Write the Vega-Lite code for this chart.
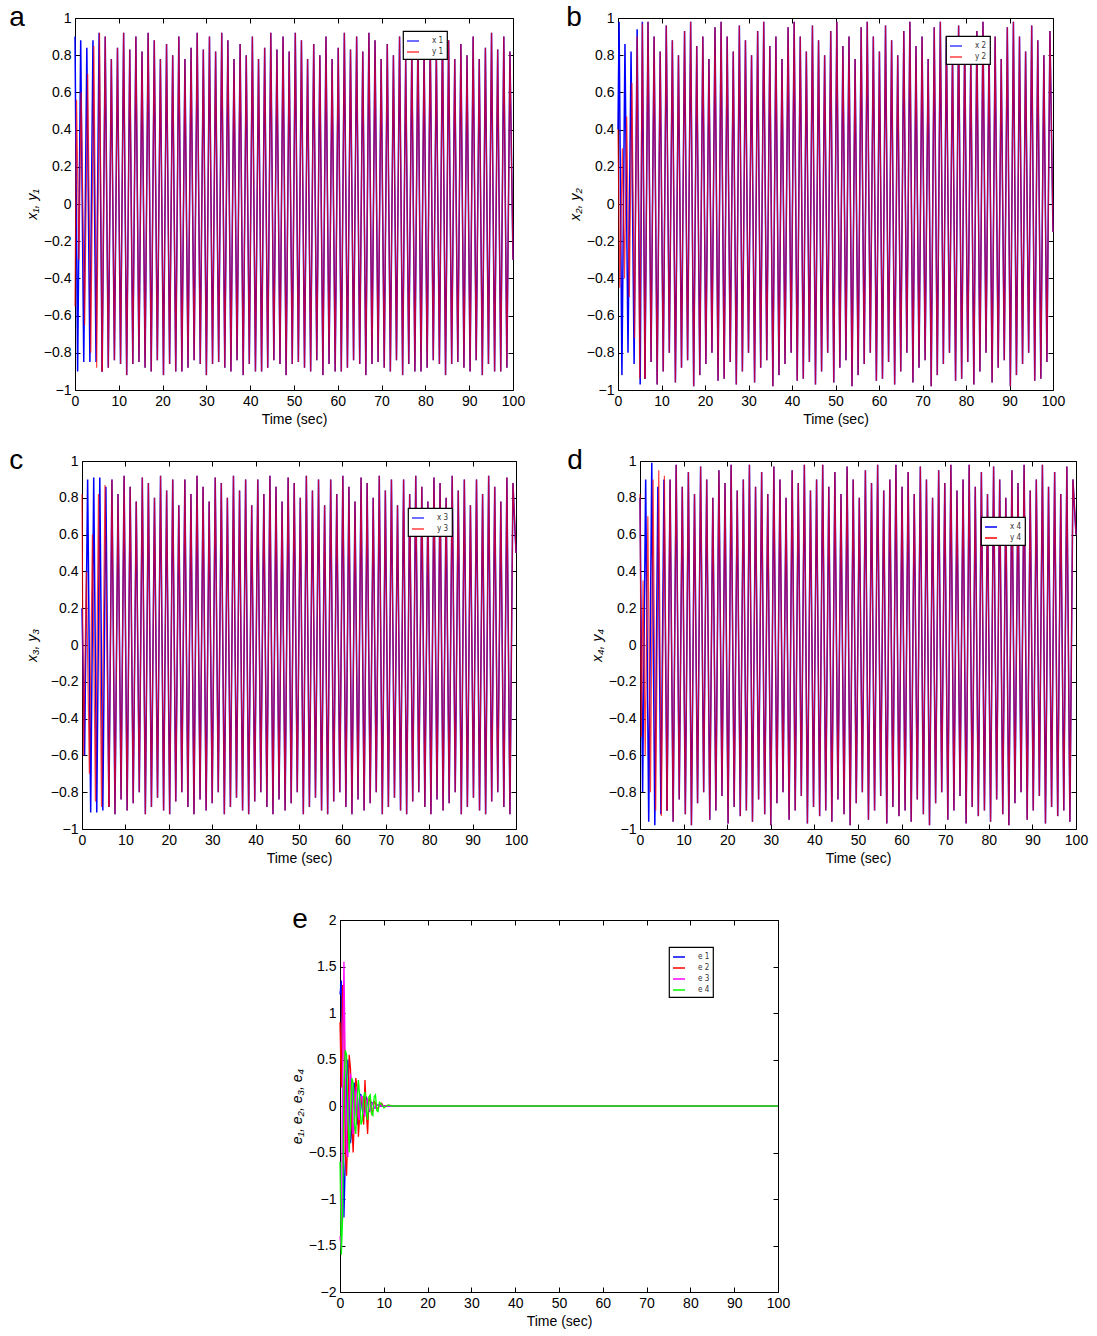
{
"$schema":"https://vega.github.io/schema/vega-lite/v6.json",
"background":"white",
"padding":{"left":7,"top":3,"right":5,"bottom":5},
"config":{
"font":"Liberation Sans",
"view":{"stroke":"#000","strokeWidth":1},
"axis":{"grid":false,"domain":false,"labelFontSize":14,"titleFontSize":14,"titleFontWeight":"normal","labelColor":"#000","titleColor":"#000","tickColor":"#000","tickSize":-5,"labelPadding":9,"labelFlush":false,"labelOverlap":false,"titlePadding":4},
"title":{"anchor":"start","frame":"bounds","fontSize":28,"fontWeight":"normal","font":"Liberation Sans","offset":-21,"color":"#000"},
"legend":{"strokeColor":"#000","strokeWidth":1.2,"fillColor":"#fff","padding":3,"symbolType":"stroke","symbolSize":144,"symbolStrokeWidth":1.5,"labelFontSize":8,"labelFont":"DejaVu Sans Condensed","labelColor":"#333","labelOffset":12,"rowPadding":0,"title":null}
},
"datasets":{
"tr":[
{"t":0,"ax":0.9},{"t":0.6,"ax":-0.9},{"t":1.3,"ax":0.88},{"t":2.0,"ax":-0.85},{"t":2.7,"ax":0.84},{"t":3.4,"ax":-0.85},{"t":4.1,"ax":0.88},{"t":4.8,"ax":-0.85},{"t":5.5,"ax":0.92},{"t":6.2,"ax":-0.9},
{"t":0,"ay":-0.55},{"t":0.35,"ay":0.56},{"t":0.9,"ay":-0.3},{"t":1.4,"ay":0.6},{"t":2.2,"ay":-0.65},{"t":2.9,"ay":0.7},{"t":3.6,"ay":-0.8},{"t":4.3,"ay":0.85},{"t":4.95,"ay":-0.88},{"t":5.6,"ay":0.92},{"t":6.2,"ay":-0.9},
{"t":0,"bx":0.4},{"t":0.25,"bx":0.98},{"t":0.9,"bx":-0.92},{"t":1.6,"bx":0.86},{"t":2.3,"bx":-0.8},{"t":3.0,"bx":0.82},{"t":3.7,"bx":-0.86},{"t":4.4,"bx":0.94},{"t":5.1,"bx":-0.97},{"t":5.6,"bx":0.98},{"t":6.2,"bx":-0.94},
{"t":0,"by":0.4},{"t":0.4,"by":-0.45},{"t":1.0,"by":0.3},{"t":1.5,"by":-0.4},{"t":2.0,"by":0.47},{"t":2.6,"by":-0.5},{"t":3.2,"by":0.65},{"t":3.8,"by":-0.72},{"t":4.4,"by":0.9},{"t":5.0,"by":-0.94},{"t":5.6,"by":0.97},{"t":6.2,"by":-0.94},
{"t":0,"cx":0.2},{"t":0.6,"cx":-0.6},{"t":1.3,"cx":0.9},{"t":2.0,"cx":-0.91},{"t":2.7,"cx":0.91},{"t":3.4,"cx":-0.91},{"t":4.1,"cx":0.91},{"t":4.8,"cx":-0.9},{"t":5.5,"cx":0.86},{"t":6.2,"cx":-0.88},
{"t":0,"cy":0.82},{"t":0.35,"cy":-0.6},{"t":1.0,"cy":0.4},{"t":1.7,"cy":-0.7},{"t":2.4,"cy":0.6},{"t":3.1,"cy":-0.85},{"t":3.8,"cy":0.82},{"t":4.5,"cy":-0.88},{"t":5.3,"cy":0.87},{"t":6.2,"cy":-0.88},
{"t":0,"dx":0.8},{"t":0.6,"dx":-0.8},{"t":1.3,"dx":0.9},{"t":2.0,"dx":-0.96},{"t":2.7,"dx":0.99},{"t":3.4,"dx":-0.98},{"t":4.1,"dx":0.86},{"t":4.8,"dx":-0.92},{"t":5.5,"dx":0.9},{"t":6.2,"dx":-0.9},
{"t":0,"dy":0.82},{"t":0.3,"dy":-0.5},{"t":0.7,"dy":0.35},{"t":1.2,"dy":-0.6},{"t":1.8,"dy":0.7},{"t":2.4,"dy":-0.8},{"t":3.0,"dy":0.9},{"t":3.6,"dy":-0.9},{"t":4.3,"dy":0.95},{"t":4.9,"dy":-0.93},{"t":5.6,"dy":0.92},{"t":6.2,"dy":-0.9}
],
"ss":[
{"t":6.2,"a":-0.9,"b":-0.94,"c":-0.88,"d":-0.9},
{"t":6.9,"a":0.9,"b":0.98,"c":0.9,"d":0.9},
{"t":7.6,"a":-0.88,"b":-0.85,"c":-0.92,"d":-0.96},
{"t":8.3,"a":0.78,"b":0.9,"c":0.82,"d":0.98},
{"t":9.0,"a":-0.84,"b":-0.97,"c":-0.84,"d":-0.84},
{"t":9.7,"a":0.84,"b":0.82,"c":0.92,"d":0.86},
{"t":10.4,"a":-0.86,"b":-0.9,"c":-0.9,"d":-0.92},
{"t":11.1,"a":0.92,"b":0.96,"c":0.86,"d":0.94},
{"t":11.8,"a":-0.92,"b":-0.8,"c":-0.86,"d":-0.98},
{"t":12.5,"a":0.83,"b":0.88,"c":0.78,"d":0.82},
{"t":13.2,"a":-0.86,"b":-0.96,"c":-0.8,"d":-0.86},
{"t":13.9,"a":0.9,"b":0.8,"c":0.91,"d":0.97},
{"t":14.6,"a":-0.85,"b":-0.88,"c":-0.92,"d":-0.8},
{"t":15.3,"a":0.82,"b":0.93,"c":0.88,"d":0.9},
{"t":16.0,"a":-0.88,"b":-0.84,"c":-0.88,"d":-0.95},
{"t":16.7,"a":0.92,"b":0.98,"c":0.8,"d":0.8},
{"t":17.4,"a":-0.9,"b":-0.98,"c":-0.83,"d":-0.9},
{"t":18.1,"a":0.88,"b":0.85,"c":0.92,"d":0.95},
{"t":18.8,"a":-0.84,"b":-0.92,"c":-0.9,"d":-0.82},
{"t":19.5,"a":0.78,"b":0.9,"c":0.84,"d":0.88},
{"t":20.2,"a":-0.92,"b":-0.86,"c":-0.92,"d":-0.97},
{"t":20.9,"a":0.86,"b":0.78,"c":0.9,"d":0.98},
{"t":21.6,"a":-0.86,"b":-0.8,"c":-0.85,"d":-0.88},
{"t":22.3,"a":0.8,"b":0.95,"c":0.76,"d":0.84},
{"t":23.0,"a":-0.9,"b":-0.95,"c":-0.8,"d":-0.93},
{"t":23.7,"a":0.9,"b":0.98,"c":0.9,"d":0.9},
{"t":24.4,"a":-0.9,"b":-0.94,"c":-0.88,"d":-0.9},
{"t":25.1,"a":0.78,"b":0.9,"c":0.82,"d":0.98},
{"t":25.8,"a":-0.88,"b":-0.85,"c":-0.92,"d":-0.96},
{"t":26.5,"a":0.84,"b":0.82,"c":0.92,"d":0.86},
{"t":27.2,"a":-0.84,"b":-0.97,"c":-0.84,"d":-0.84},
{"t":27.9,"a":0.92,"b":0.96,"c":0.86,"d":0.94},
{"t":28.6,"a":-0.86,"b":-0.9,"c":-0.9,"d":-0.92},
{"t":29.3,"a":0.83,"b":0.88,"c":0.78,"d":0.82},
{"t":30.0,"a":-0.92,"b":-0.8,"c":-0.86,"d":-0.98},
{"t":30.7,"a":0.9,"b":0.8,"c":0.91,"d":0.97},
{"t":31.4,"a":-0.86,"b":-0.96,"c":-0.8,"d":-0.86},
{"t":32.1,"a":0.82,"b":0.93,"c":0.88,"d":0.9},
{"t":32.8,"a":-0.85,"b":-0.88,"c":-0.92,"d":-0.8},
{"t":33.5,"a":0.92,"b":0.98,"c":0.8,"d":0.8},
{"t":34.2,"a":-0.88,"b":-0.84,"c":-0.88,"d":-0.95},
{"t":34.9,"a":0.88,"b":0.85,"c":0.92,"d":0.95},
{"t":35.6,"a":-0.9,"b":-0.98,"c":-0.83,"d":-0.9},
{"t":36.3,"a":0.78,"b":0.9,"c":0.84,"d":0.88},
{"t":37.0,"a":-0.84,"b":-0.92,"c":-0.9,"d":-0.82},
{"t":37.7,"a":0.86,"b":0.78,"c":0.9,"d":0.98},
{"t":38.4,"a":-0.92,"b":-0.86,"c":-0.92,"d":-0.97},
{"t":39.1,"a":0.8,"b":0.95,"c":0.76,"d":0.84},
{"t":39.8,"a":-0.86,"b":-0.8,"c":-0.85,"d":-0.88},
{"t":40.5,"a":0.9,"b":0.98,"c":0.9,"d":0.9},
{"t":41.2,"a":-0.9,"b":-0.95,"c":-0.8,"d":-0.93},
{"t":41.9,"a":0.78,"b":0.9,"c":0.82,"d":0.98},
{"t":42.6,"a":-0.9,"b":-0.94,"c":-0.88,"d":-0.9},
{"t":43.3,"a":0.84,"b":0.82,"c":0.92,"d":0.86},
{"t":44.0,"a":-0.88,"b":-0.85,"c":-0.92,"d":-0.96},
{"t":44.7,"a":0.92,"b":0.96,"c":0.86,"d":0.94},
{"t":45.4,"a":-0.84,"b":-0.97,"c":-0.84,"d":-0.84},
{"t":46.1,"a":0.83,"b":0.88,"c":0.78,"d":0.82},
{"t":46.8,"a":-0.86,"b":-0.9,"c":-0.9,"d":-0.92},
{"t":47.5,"a":0.9,"b":0.8,"c":0.91,"d":0.97},
{"t":48.2,"a":-0.92,"b":-0.8,"c":-0.86,"d":-0.98},
{"t":48.9,"a":0.82,"b":0.93,"c":0.88,"d":0.9},
{"t":49.6,"a":-0.86,"b":-0.96,"c":-0.8,"d":-0.86},
{"t":50.3,"a":0.92,"b":0.98,"c":0.8,"d":0.8},
{"t":51.0,"a":-0.85,"b":-0.88,"c":-0.92,"d":-0.8},
{"t":51.7,"a":0.88,"b":0.85,"c":0.92,"d":0.95},
{"t":52.4,"a":-0.88,"b":-0.84,"c":-0.88,"d":-0.95},
{"t":53.1,"a":0.78,"b":0.9,"c":0.84,"d":0.88},
{"t":53.8,"a":-0.9,"b":-0.98,"c":-0.83,"d":-0.9},
{"t":54.5,"a":0.86,"b":0.78,"c":0.9,"d":0.98},
{"t":55.2,"a":-0.84,"b":-0.92,"c":-0.9,"d":-0.82},
{"t":55.9,"a":0.8,"b":0.95,"c":0.76,"d":0.84},
{"t":56.6,"a":-0.92,"b":-0.86,"c":-0.92,"d":-0.97},
{"t":57.3,"a":0.9,"b":0.98,"c":0.9,"d":0.9},
{"t":58.0,"a":-0.86,"b":-0.8,"c":-0.85,"d":-0.88},
{"t":58.7,"a":0.78,"b":0.9,"c":0.82,"d":0.98},
{"t":59.4,"a":-0.9,"b":-0.95,"c":-0.8,"d":-0.93},
{"t":60.1,"a":0.84,"b":0.82,"c":0.92,"d":0.86},
{"t":60.8,"a":-0.9,"b":-0.94,"c":-0.88,"d":-0.9},
{"t":61.5,"a":0.92,"b":0.96,"c":0.86,"d":0.94},
{"t":62.2,"a":-0.88,"b":-0.85,"c":-0.92,"d":-0.96},
{"t":62.9,"a":0.83,"b":0.88,"c":0.78,"d":0.82},
{"t":63.6,"a":-0.84,"b":-0.97,"c":-0.84,"d":-0.84},
{"t":64.3,"a":0.9,"b":0.8,"c":0.91,"d":0.97},
{"t":65.0,"a":-0.86,"b":-0.9,"c":-0.9,"d":-0.92},
{"t":65.7,"a":0.82,"b":0.93,"c":0.88,"d":0.9},
{"t":66.4,"a":-0.92,"b":-0.8,"c":-0.86,"d":-0.98},
{"t":67.1,"a":0.92,"b":0.98,"c":0.8,"d":0.8},
{"t":67.8,"a":-0.86,"b":-0.96,"c":-0.8,"d":-0.86},
{"t":68.5,"a":0.88,"b":0.85,"c":0.92,"d":0.95},
{"t":69.2,"a":-0.85,"b":-0.88,"c":-0.92,"d":-0.8},
{"t":69.9,"a":0.78,"b":0.9,"c":0.84,"d":0.88},
{"t":70.6,"a":-0.88,"b":-0.84,"c":-0.88,"d":-0.95},
{"t":71.3,"a":0.86,"b":0.78,"c":0.9,"d":0.98},
{"t":72.0,"a":-0.9,"b":-0.98,"c":-0.83,"d":-0.9},
{"t":72.7,"a":0.8,"b":0.95,"c":0.76,"d":0.84},
{"t":73.4,"a":-0.84,"b":-0.92,"c":-0.9,"d":-0.82},
{"t":74.1,"a":0.9,"b":0.98,"c":0.9,"d":0.9},
{"t":74.8,"a":-0.92,"b":-0.86,"c":-0.92,"d":-0.97},
{"t":75.5,"a":0.78,"b":0.9,"c":0.82,"d":0.98},
{"t":76.2,"a":-0.86,"b":-0.8,"c":-0.85,"d":-0.88},
{"t":76.9,"a":0.84,"b":0.82,"c":0.92,"d":0.86},
{"t":77.6,"a":-0.9,"b":-0.95,"c":-0.8,"d":-0.93},
{"t":78.3,"a":0.92,"b":0.96,"c":0.86,"d":0.94},
{"t":79.0,"a":-0.9,"b":-0.94,"c":-0.88,"d":-0.9},
{"t":79.7,"a":0.83,"b":0.88,"c":0.78,"d":0.82},
{"t":80.4,"a":-0.88,"b":-0.85,"c":-0.92,"d":-0.96},
{"t":81.1,"a":0.9,"b":0.8,"c":0.91,"d":0.97},
{"t":81.8,"a":-0.84,"b":-0.97,"c":-0.84,"d":-0.84},
{"t":82.5,"a":0.82,"b":0.93,"c":0.88,"d":0.9},
{"t":83.2,"a":-0.86,"b":-0.9,"c":-0.9,"d":-0.92},
{"t":83.9,"a":0.92,"b":0.98,"c":0.8,"d":0.8},
{"t":84.6,"a":-0.92,"b":-0.8,"c":-0.86,"d":-0.98},
{"t":85.3,"a":0.88,"b":0.85,"c":0.92,"d":0.95},
{"t":86.0,"a":-0.86,"b":-0.96,"c":-0.8,"d":-0.86},
{"t":86.7,"a":0.78,"b":0.9,"c":0.84,"d":0.88},
{"t":87.4,"a":-0.85,"b":-0.88,"c":-0.92,"d":-0.8},
{"t":88.1,"a":0.86,"b":0.78,"c":0.9,"d":0.98},
{"t":88.8,"a":-0.88,"b":-0.84,"c":-0.88,"d":-0.95},
{"t":89.5,"a":0.8,"b":0.95,"c":0.76,"d":0.84},
{"t":90.2,"a":-0.9,"b":-0.98,"c":-0.83,"d":-0.9},
{"t":90.9,"a":0.9,"b":0.98,"c":0.9,"d":0.9},
{"t":91.6,"a":-0.84,"b":-0.92,"c":-0.9,"d":-0.82},
{"t":92.3,"a":0.78,"b":0.9,"c":0.82,"d":0.98},
{"t":93.0,"a":-0.92,"b":-0.86,"c":-0.92,"d":-0.97},
{"t":93.7,"a":0.84,"b":0.82,"c":0.92,"d":0.86},
{"t":94.4,"a":-0.86,"b":-0.8,"c":-0.85,"d":-0.88},
{"t":95.1,"a":0.92,"b":0.96,"c":0.86,"d":0.94},
{"t":95.8,"a":-0.9,"b":-0.95,"c":-0.8,"d":-0.93},
{"t":96.5,"a":0.83,"b":0.88,"c":0.78,"d":0.82},
{"t":97.2,"a":-0.9,"b":-0.94,"c":-0.88,"d":-0.9},
{"t":97.9,"a":0.9,"b":0.8,"c":0.91,"d":0.97},
{"t":98.6,"a":-0.88,"b":-0.85,"c":-0.92,"d":-0.96},
{"t":99.3,"a":0.82,"b":0.93,"c":0.88,"d":0.9},
{"t":100,"a":-0.3,"b":-0.15,"c":0.5,"d":0.6}
],
"err":[
{"t":0,"e1":1.2,"e2":0.9,"e3":-1.4,"e4":-0.6},
{"t":0.3,"e1":1.35,"e2":0.2,"e3":-1.55,"e4":-1.6},
{"t":0.6,"e1":0.2,"e2":1.3,"e3":0.4,"e4":-1.2},
{"t":0.9,"e1":-1.2,"e2":0.8,"e3":1.55,"e4":0.2},
{"t":1.2,"e1":-0.6,"e2":-0.5,"e3":0.4,"e4":0.6},
{"t":1.5,"e1":0.3,"e2":-0.75,"e3":-0.5,"e4":0.55},
{"t":1.8,"e1":0.5,"e2":-0.2,"e3":-0.55,"e4":-0.1},
{"t":2.1,"e1":0.1,"e2":0.55,"e3":0.1,"e4":-0.5},
{"t":2.4,"e1":-0.4,"e2":0.4,"e3":0.35,"e4":-0.2},
{"t":2.7,"e1":-0.25,"e2":-0.2,"e3":0.2,"e4":0.3},
{"t":3.0,"e1":0.2,"e2":-0.5,"e3":-0.3,"e4":0.25},
{"t":3.3,"e1":0.25,"e2":-0.1,"e3":-0.2,"e4":-0.2},
{"t":3.6,"e1":0.0,"e2":0.3,"e3":0.15,"e4":-0.3},
{"t":3.9,"e1":-0.2,"e2":0.2,"e3":0.2,"e4":0.05},
{"t":4.2,"e1":-0.1,"e2":-0.33,"e3":-0.1,"e4":0.28},
{"t":4.5,"e1":0.13,"e2":-0.1,"e3":-0.15,"e4":0.1},
{"t":4.8,"e1":0.12,"e2":0.1,"e3":0.1,"e4":-0.2},
{"t":5.1,"e1":-0.05,"e2":0.05,"e3":0.1,"e4":-0.15},
{"t":5.4,"e1":-0.12,"e2":-0.2,"e3":-0.08,"e4":0.1},
{"t":5.7,"e1":-0.02,"e2":0.28,"e3":-0.1,"e4":0.15},
{"t":6.0,"e1":0.1,"e2":-0.05,"e3":0.05,"e4":-0.05},
{"t":6.3,"e1":0.05,"e2":-0.3,"e3":0.07,"e4":-0.15},
{"t":6.6,"e1":-0.06,"e2":0.05,"e3":-0.04,"e4":0.1},
{"t":6.9,"e1":-0.04,"e2":0.1,"e3":-0.05,"e4":0.12},
{"t":7.2,"e1":0.04,"e2":-0.08,"e3":0.03,"e4":-0.08},
{"t":7.5,"e1":0.03,"e2":-0.05,"e3":0.03,"e4":-0.1},
{"t":7.8,"e1":-0.02,"e2":0.05,"e3":-0.02,"e4":0.1},
{"t":8.1,"e1":-0.02,"e2":0.03,"e3":-0.02,"e4":0.12},
{"t":8.4,"e1":0.01,"e2":-0.03,"e3":0.01,"e4":-0.05},
{"t":8.7,"e1":0.01,"e2":-0.02,"e3":0.01,"e4":-0.06},
{"t":9.0,"e1":0,"e2":0.01,"e3":0,"e4":0.04},
{"t":9.5,"e1":0,"e2":0.03,"e3":0,"e4":0.02},
{"t":10,"e1":0,"e2":-0.01,"e3":0,"e4":-0.02},
{"t":11,"e1":0,"e2":0.01,"e3":0,"e4":0.01},
{"t":12,"e1":0,"e2":0,"e3":0,"e4":0},
{"t":100,"e1":0,"e2":0,"e3":0,"e4":0}
]
},
"columns":1,
"align":"none",
"spacing":39,
"resolve":{"scale":{"color":"independent"},"legend":{"color":"independent"}},
"concat":[
{"columns":1,"align":"none","spacing":19,"resolve":{"scale":{"color":"independent"},"legend":{"color":"independent"}},
"concat":[
{"hconcat":[
{"width":1,"height":10,"view":{"stroke":null},"data":{"values":[]},"mark":{"type":"point","opacity":0}},
{"hconcat":[
{"width":438,"height":372,"title":{"text":"a","dx":-16},
"layer":[
{"layer":[
{"data":{"name":"tr"},"mark":{"type":"line","strokeWidth":1.5,"invalid":"filter"},
"encoding":{"x":{"field":"t","type":"quantitative","scale":{"domain":[0,100],"nice":false},"axis":{"title":"Time (sec)","values":[0,10,20,30,40,50,60,70,80,90,100],"tickCount":20,"format":"d","labelOverlap":false}},
"y":{"field":"ax","type":"quantitative","scale":{"domain":[-1,1],"nice":false,"zero":false},"axis":{"title":"x₁, y₁","titleFontStyle":"italic","values":[-1,-0.8,-0.6,-0.4,-0.2,0,0.2,0.4,0.6,0.8,1],"tickCount":20,"format":".1~f","labelOverlap":false}},
"color":{"datum":"x 1","type":"nominal","scale":{"domain":["x 1","y 1"],"range":["#0000ff","#ff0000"]},"legend":{"orient":"none","legendX":328,"legendY":13}}}},
{"data":{"name":"ss"},"mark":{"type":"line","strokeWidth":1.5,"invalid":"filter"},"encoding":{"x":{"field":"t","type":"quantitative"},"y":{"field":"a","type":"quantitative"},"color":{"datum":"x 1","type":"nominal"}}},
{"data":{"name":"tr"},"mark":{"type":"line","strokeWidth":1.2,"opacity":0.75,"invalid":"filter"},"encoding":{"x":{"field":"t","type":"quantitative"},"y":{"field":"ay","type":"quantitative"},"color":{"datum":"y 1","type":"nominal"}}},
{"data":{"name":"ss"},"mark":{"type":"line","strokeWidth":1.2,"opacity":0.75,"invalid":"filter"},"encoding":{"x":{"field":"t","type":"quantitative"},"y":{"field":"a","type":"quantitative"},"color":{"datum":"y 1","type":"nominal"}}}
]},
{"data":{"name":"ss"},"mark":{"type":"point","opacity":0},"encoding":{"x":{"field":"t","type":"quantitative","scale":{"domain":[0,100],"nice":false},"axis":{"orient":"top","labels":false,"title":null,"tickCount":20,"values":[0,10,20,30,40,50,60,70,80,90,100]}},"y":{"field":"a","type":"quantitative","scale":{"domain":[-1,1],"nice":false,"zero":false},"axis":{"orient":"right","labels":false,"title":null,"tickCount":20,"values":[-1,-0.8,-0.6,-0.4,-0.2,0,0.2,0.4,0.6,0.8,1]}}}}
],
"resolve":{"axis":{"x":"independent","y":"independent"}}},
{"width":435,"height":372,"title":{"text":"b","dx":-2},
"layer":[
{"layer":[
{"data":{"name":"tr"},"mark":{"type":"line","strokeWidth":1.5,"invalid":"filter"},
"encoding":{"x":{"field":"t","type":"quantitative","scale":{"domain":[0,100],"nice":false},"axis":{"title":"Time (sec)","values":[0,10,20,30,40,50,60,70,80,90,100],"tickCount":20,"format":"d","labelOverlap":false}},
"y":{"field":"bx","type":"quantitative","scale":{"domain":[-1,1],"nice":false,"zero":false},"axis":{"title":"x₂, y₂","titleFontStyle":"italic","values":[-1,-0.8,-0.6,-0.4,-0.2,0,0.2,0.4,0.6,0.8,1],"tickCount":20,"format":".1~f","labelOverlap":false}},
"color":{"datum":"x 2","type":"nominal","scale":{"domain":["x 2","y 2"],"range":["#0000ff","#ff0000"]},"legend":{"orient":"none","legendX":328,"legendY":18}}}},
{"data":{"name":"ss"},"mark":{"type":"line","strokeWidth":1.5,"invalid":"filter"},"encoding":{"x":{"field":"t","type":"quantitative"},"y":{"field":"b","type":"quantitative"},"color":{"datum":"x 2","type":"nominal"}}},
{"data":{"name":"tr"},"mark":{"type":"line","strokeWidth":1.2,"opacity":0.75,"invalid":"filter"},"encoding":{"x":{"field":"t","type":"quantitative"},"y":{"field":"by","type":"quantitative"},"color":{"datum":"y 2","type":"nominal"}}},
{"data":{"name":"ss"},"mark":{"type":"line","strokeWidth":1.2,"opacity":0.75,"invalid":"filter"},"encoding":{"x":{"field":"t","type":"quantitative"},"y":{"field":"b","type":"quantitative"},"color":{"datum":"y 2","type":"nominal"}}}
]},
{"data":{"name":"ss"},"mark":{"type":"point","opacity":0},"encoding":{"x":{"field":"t","type":"quantitative","scale":{"domain":[0,100],"nice":false},"axis":{"orient":"top","labels":false,"title":null,"tickCount":20,"values":[0,10,20,30,40,50,60,70,80,90,100]}},"y":{"field":"b","type":"quantitative","scale":{"domain":[-1,1],"nice":false,"zero":false},"axis":{"orient":"right","labels":false,"title":null,"tickCount":20,"values":[-1,-0.8,-0.6,-0.4,-0.2,0,0.2,0.4,0.6,0.8,1]}}}}
],
"resolve":{"axis":{"x":"independent","y":"independent"}}}
],"spacing":39,"resolve":{"scale":{"color":"independent"},"legend":{"color":"independent"}}}
],"spacing":0,"resolve":{"scale":{"color":"independent"},"legend":{"color":"independent"}}},
{"hconcat":[
{"width":1,"height":10,"view":{"stroke":null},"data":{"values":[]},"mark":{"type":"point","opacity":0}},
{"hconcat":[
{"width":434,"height":368,"title":{"text":"c","dx":-16},
"layer":[
{"layer":[
{"data":{"name":"tr"},"mark":{"type":"line","strokeWidth":1.5,"invalid":"filter"},
"encoding":{"x":{"field":"t","type":"quantitative","scale":{"domain":[0,100],"nice":false},"axis":{"title":"Time (sec)","values":[0,10,20,30,40,50,60,70,80,90,100],"tickCount":20,"format":"d","labelOverlap":false}},
"y":{"field":"cx","type":"quantitative","scale":{"domain":[-1,1],"nice":false,"zero":false},"axis":{"title":"x₃, y₃","titleFontStyle":"italic","titlePadding":11,"values":[-1,-0.8,-0.6,-0.4,-0.2,0,0.2,0.4,0.6,0.8,1],"tickCount":20,"format":".1~f","labelOverlap":false}},
"color":{"datum":"x 3","type":"nominal","scale":{"domain":["x 3","y 3"],"range":["#0000ff","#ff0000"]},"legend":{"orient":"none","legendX":326,"legendY":47}}}},
{"data":{"name":"ss"},"mark":{"type":"line","strokeWidth":1.5,"invalid":"filter"},"encoding":{"x":{"field":"t","type":"quantitative"},"y":{"field":"c","type":"quantitative"},"color":{"datum":"x 3","type":"nominal"}}},
{"data":{"name":"tr"},"mark":{"type":"line","strokeWidth":1.2,"opacity":0.75,"invalid":"filter"},"encoding":{"x":{"field":"t","type":"quantitative"},"y":{"field":"cy","type":"quantitative"},"color":{"datum":"y 3","type":"nominal"}}},
{"data":{"name":"ss"},"mark":{"type":"line","strokeWidth":1.2,"opacity":0.75,"invalid":"filter"},"encoding":{"x":{"field":"t","type":"quantitative"},"y":{"field":"c","type":"quantitative"},"color":{"datum":"y 3","type":"nominal"}}}
]},
{"data":{"name":"ss"},"mark":{"type":"point","opacity":0},"encoding":{"x":{"field":"t","type":"quantitative","scale":{"domain":[0,100],"nice":false},"axis":{"orient":"top","labels":false,"title":null,"tickCount":20,"values":[0,10,20,30,40,50,60,70,80,90,100]}},"y":{"field":"c","type":"quantitative","scale":{"domain":[-1,1],"nice":false,"zero":false},"axis":{"orient":"right","labels":false,"title":null,"tickCount":20,"values":[-1,-0.8,-0.6,-0.4,-0.2,0,0.2,0.4,0.6,0.8,1]}}}}
],
"resolve":{"axis":{"x":"independent","y":"independent"}}},
{"width":436,"height":368,"title":{"text":"d","dx":-23},
"layer":[
{"layer":[
{"data":{"name":"tr"},"mark":{"type":"line","strokeWidth":1.5,"invalid":"filter"},
"encoding":{"x":{"field":"t","type":"quantitative","scale":{"domain":[0,100],"nice":false},"axis":{"title":"Time (sec)","values":[0,10,20,30,40,50,60,70,80,90,100],"tickCount":20,"format":"d","labelOverlap":false}},
"y":{"field":"dx","type":"quantitative","scale":{"domain":[-1,1],"nice":false,"zero":false},"axis":{"title":"x₄, y₄","titleFontStyle":"italic","values":[-1,-0.8,-0.6,-0.4,-0.2,0,0.2,0.4,0.6,0.8,1],"tickCount":20,"format":".1~f","labelOverlap":false}},
"color":{"datum":"x 4","type":"nominal","scale":{"domain":["x 4","y 4"],"range":["#0000ff","#ff0000"]},"legend":{"orient":"none","legendX":341,"legendY":56,"encode":{"symbols":{"update":{"stroke":{"signal":"datum.value === 'x 4' ? '#000000' : '#ff0000'"}}}}}}}},
{"data":{"name":"ss"},"mark":{"type":"line","strokeWidth":1.5,"invalid":"filter"},"encoding":{"x":{"field":"t","type":"quantitative"},"y":{"field":"d","type":"quantitative"},"color":{"datum":"x 4","type":"nominal"}}},
{"data":{"name":"tr"},"mark":{"type":"line","strokeWidth":1.2,"opacity":0.75,"invalid":"filter"},"encoding":{"x":{"field":"t","type":"quantitative"},"y":{"field":"dy","type":"quantitative"},"color":{"datum":"y 4","type":"nominal"}}},
{"data":{"name":"ss"},"mark":{"type":"line","strokeWidth":1.2,"opacity":0.75,"invalid":"filter"},"encoding":{"x":{"field":"t","type":"quantitative"},"y":{"field":"d","type":"quantitative"},"color":{"datum":"y 4","type":"nominal"}}}
]},
{"data":{"name":"ss"},"mark":{"type":"point","opacity":0},"encoding":{"x":{"field":"t","type":"quantitative","scale":{"domain":[0,100],"nice":false},"axis":{"orient":"top","labels":false,"title":null,"tickCount":20,"values":[0,10,20,30,40,50,60,70,80,90,100]}},"y":{"field":"d","type":"quantitative","scale":{"domain":[-1,1],"nice":false,"zero":false},"axis":{"orient":"right","labels":false,"title":null,"tickCount":20,"values":[-1,-0.8,-0.6,-0.4,-0.2,0,0.2,0.4,0.6,0.8,1]}}}}
],
"resolve":{"axis":{"x":"independent","y":"independent"}}}
],"spacing":37,"resolve":{"scale":{"color":"independent"},"legend":{"color":"independent"}}}
],"spacing":0,"resolve":{"scale":{"color":"independent"},"legend":{"color":"independent"}}}
]},
{"hconcat":[
{"width":282,"height":10,"view":{"stroke":null},"data":{"values":[]},"mark":{"type":"point","opacity":0}},
{"width":438,"height":372,"title":{"text":"e","dx":2},
"layer":[
{"data":{"name":"err"},"transform":[{"fold":["e1","e2","e3","e4"],"as":["key","value"]}],
"mark":{"type":"line","strokeWidth":1.3,"invalid":"filter"},
"encoding":{"x":{"field":"t","type":"quantitative","scale":{"domain":[0,100],"nice":false},"axis":{"title":"Time (sec)","values":[0,10,20,30,40,50,60,70,80,90,100],"tickCount":20,"format":"d","labelOverlap":false}},
"y":{"field":"value","type":"quantitative","scale":{"domain":[-2,2],"nice":false,"zero":false},"axis":{"title":"e₁, e₂, e₃, e₄","titleFontStyle":"italic","values":[-2,-1.5,-1,-0.5,0,0.5,1,1.5,2],"tickCount":20,"format":".1~f","labelOverlap":false}},
"color":{"field":"key","type":"nominal","scale":{"domain":["e1","e2","e3","e4"],"range":["#0000ff","#ff0000","#ff00ff","#00ff00"]},"legend":{"orient":"none","legendX":329,"legendY":27,"labelExpr":"replace(datum.label, 'e', 'e ')"}}}},
{"data":{"name":"err"},"mark":{"type":"point","opacity":0},"encoding":{"x":{"field":"t","type":"quantitative","scale":{"domain":[0,100],"nice":false},"axis":{"orient":"top","labels":false,"title":null,"tickCount":20,"values":[0,10,20,30,40,50,60,70,80,90,100]}},"y":{"field":"e1","type":"quantitative","scale":{"domain":[-2,2],"nice":false,"zero":false},"axis":{"orient":"right","labels":false,"title":null,"tickCount":20,"values":[-2,-1.5,-1,-0.5,0,0.5,1,1.5,2]}}}}
],
"resolve":{"axis":{"x":"independent","y":"independent"}}}
],"spacing":0,"resolve":{"scale":{"color":"independent"},"legend":{"color":"independent"}}}
]
}
